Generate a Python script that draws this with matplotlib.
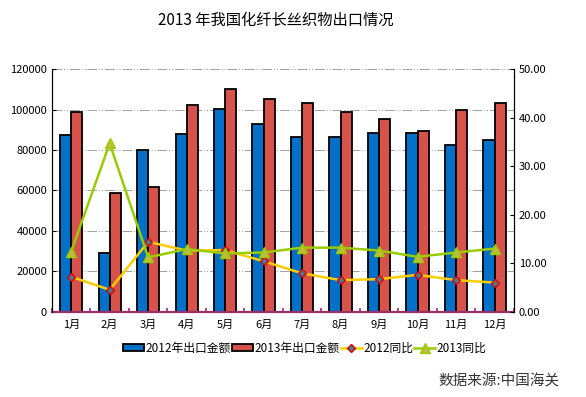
import numpy as np
import matplotlib
matplotlib.use("Agg")
import matplotlib.pyplot as plt

plt.rcParams['font.family'] = ['Noto Sans CJK SC', 'DejaVu Sans']

months = ['1月', '2月', '3月', '4月', '5月', '6月', '7月', '8月', '9月', '10月', '11月', '12月']
export_2012 = [87600, 29200, 80200, 88100, 100200, 92900, 86600, 86600, 88300, 88300, 82500, 85000]
export_2013 = [99000, 58900, 61900, 102200, 110200, 105100, 103300, 99000, 95400, 89600, 99700, 103200]
yoy_2012 = [7.2, 4.5, 14.4, 12.6, 12.7, 10.4, 7.9, 6.5, 6.7, 7.6, 6.5, 6.0]
yoy_2013 = [12.4, 34.7, 11.2, 12.9, 12.0, 12.2, 13.2, 13.2, 12.6, 11.3, 12.2, 13.0]

fig = plt.figure(figsize=(5.86, 3.97), dpi=100)
ax = fig.add_axes([0.0887, 0.215, 0.788, 0.6106])
ax2 = ax.twinx()

x = np.arange(len(months))
w = 0.29
b1 = ax.bar(x - w / 2, export_2012, w, color='#0070C8', edgecolor='black', linewidth=1.3,
            label='2012年出口金额', zorder=2)
b2 = ax.bar(x + w / 2, export_2013, w, color='#D6524A', edgecolor='black', linewidth=1.3,
            label='2013年出口金额', zorder=2)

ax.set_xlim(-0.5, len(months) - 0.5)
ax.set_ylim(0, 120000)
ax.set_yticks(range(0, 120001, 20000))
ax.set_xticks(x)
ax.set_xticklabels(months, fontsize=8)
ax.set_xticks(np.arange(-0.5, len(months), 1), minor=True)
ax.tick_params(axis='x', which='major', length=0, pad=6)
ax.tick_params(axis='x', which='minor', direction='in', length=3, color='#9C2F6B', width=1.2)
ax.tick_params(axis='y', direction='in', length=3, labelsize=8)
ax.yaxis.grid(True, linestyle=(0, (10, 2, 1, 2, 1, 2)), color='#A0A0A0',
              linewidth=0.7, zorder=0)
ax.set_axisbelow(True)
ax.spines['top'].set_visible(False)
ax.spines['bottom'].set_color('#9C2F6B')
ax.spines['bottom'].set_linewidth(1.6)

l1, = ax2.plot(x, yoy_2012, color='#FFCC00', linewidth=1.8, marker='D', markersize=4,
               markerfacecolor='#4A7A8C', markeredgecolor='#E00000', markeredgewidth=1.0,
               label='2012同比', zorder=3)
l2, = ax2.plot(x, yoy_2013, color='#99CC00', linewidth=1.8, marker='^', markersize=6.5,
               markerfacecolor='#BDBD3A', markeredgecolor='#99CC00', markeredgewidth=1.0,
               label='2013同比', zorder=3)
ax2.set_ylim(0, 50)
ax2.set_yticks(range(0, 51, 10))
ax2.set_yticklabels(['%.2f' % v for v in range(0, 51, 10)])
ax2.tick_params(axis='y', direction='in', length=3, labelsize=8)
ax2.spines['top'].set_visible(False)
ax2.spines['bottom'].set_visible(False)

fig.legend(handles=[b1, b2, l1, l2], loc='center', bbox_to_anchor=(0.52, 0.123), ncol=4,
           frameon=False, fontsize=8.5, handlelength=1.8, handleheight=0.5, handletextpad=0.1,
           columnspacing=0.1, borderpad=0)

fig.text(0.47, 0.95, '2013 年我国化纤长丝织物出口情况', ha='center', va='center', fontsize=11)
fig.text(0.955, 0.04, '数据来源:中国海关', ha='right', va='center', fontsize=10.5, color='#333333')

fig.savefig('out.png', dpi=100)
